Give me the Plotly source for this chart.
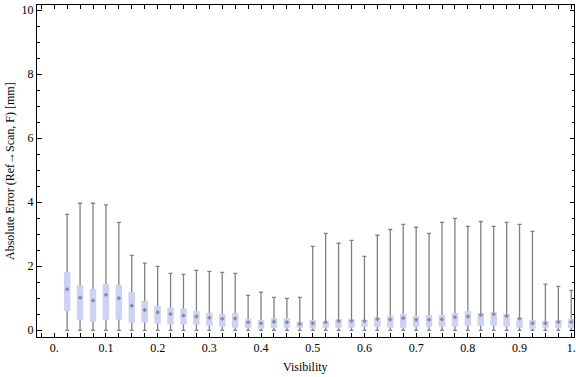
import plotly.graph_objects as go

visibility = [round(0.025 * k, 3) for k in range(1, 41)]
max_err = [3.62, 3.97, 3.97, 3.92, 3.37, 2.34, 2.10, 2.00, 1.78, 1.75,
           1.87, 1.84, 1.81, 1.78, 1.09, 1.19, 1.03, 1.00, 1.03, 2.62,
           3.03, 2.72, 2.81, 2.31, 2.97, 3.15, 3.31, 3.22, 3.03, 3.37,
           3.50, 3.25, 3.40, 3.25, 3.37, 3.31, 3.09, 1.44, 1.37, 1.25]
q3_err = [1.82, 1.41, 1.29, 1.45, 1.42, 1.20, 0.92, 0.76, 0.71, 0.68,
          0.60, 0.54, 0.51, 0.54, 0.35, 0.32, 0.38, 0.38, 0.26, 0.32,
          0.29, 0.35, 0.35, 0.32, 0.40, 0.45, 0.51, 0.45, 0.48, 0.48,
          0.54, 0.60, 0.54, 0.57, 0.51, 0.38, 0.32, 0.29, 0.32, 0.35]
median_err = [1.28, 1.02, 0.93, 1.11, 1.00, 0.77, 0.63, 0.56, 0.51, 0.46,
              0.43, 0.39, 0.36, 0.37, 0.25, 0.22, 0.27, 0.25, 0.20, 0.22,
              0.25, 0.29, 0.29, 0.29, 0.35, 0.34, 0.38, 0.33, 0.33, 0.34,
              0.41, 0.43, 0.48, 0.50, 0.45, 0.37, 0.22, 0.22, 0.26, 0.26]
q1_err = [0.61, 0.31, 0.27, 0.33, 0.33, 0.24, 0.24, 0.21, 0.18, 0.18,
          0.18, 0.14, 0.11, 0.08, 0.08, 0.05, 0.08, 0.08, 0.08, 0.05,
          0.08, 0.08, 0.08, 0.11, 0.11, 0.08, 0.08, 0.11, 0.11, 0.11,
          0.11, 0.14, 0.14, 0.14, 0.11, 0.08, 0.05, 0.08, 0.08, 0.08]
min_err = [0.0] * 40

x_tickvals = [0.0, 0.1, 0.2, 0.3, 0.4, 0.5, 0.6, 0.7, 0.8, 0.9, 1.0]
x_ticktext = ["0.", "0.1", "0.2", "0.3", "0.4", "0.5", "0.6", "0.7", "0.8", "0.9", "1."]
y_tickvals = [0, 2, 4, 6, 8, 10]

whisker_gray = "#808080"
box_fill = "#cbd2f4"
font_family = "Liberation Serif"

fig = go.Figure()

# whiskers (min to max) with caps, drawn as error bars of an invisible bar
fig.add_trace(go.Bar(
    x=visibility,
    y=max_err,
    width=0.004,
    marker=dict(color="rgba(0,0,0,0)", line=dict(width=0)),
    error_y=dict(type="data", symmetric=False,
                 array=[0] * len(max_err),
                 arrayminus=[m - lo for m, lo in zip(max_err, min_err)],
                 color=whisker_gray, thickness=1.3, width=2),
    hoverinfo="skip",
    showlegend=False,
))

# boxes (q1 to q3)
fig.add_trace(go.Bar(
    x=visibility,
    y=[hi - lo for hi, lo in zip(q3_err, q1_err)],
    base=q1_err,
    width=0.0125,
    marker=dict(color=box_fill, line=dict(width=0)),
    showlegend=False,
))

# medians
fig.add_trace(go.Scatter(
    x=visibility,
    y=median_err,
    mode="markers",
    marker=dict(symbol="diamond", size=3.5, color="rgba(120,122,140,0.8)",
                line=dict(width=0)),
    showlegend=False,
))

fig.update_layout(
    width=576, height=377,
    margin=dict(l=37, r=2, t=5, b=40),
    paper_bgcolor="white",
    plot_bgcolor="white",
    barmode="overlay",
    font=dict(family=font_family, size=12, color="black"),
    xaxis=dict(
        range=[-0.0333, 1.0053],
        automargin=False,
        tickvals=x_tickvals, ticktext=x_ticktext,
        ticks="inside", ticklen=4, tickwidth=1, tickcolor="black",
        minor=dict(dtick=0.025, tick0=0, ticks="inside", ticklen=4,
                   tickwidth=1, tickcolor="black", showgrid=False),
        showline=True, linecolor="black", linewidth=1, mirror="ticks",
        showgrid=False, zeroline=False,
        tickfont=dict(family=font_family, size=12),
    ),
    yaxis=dict(
        range=[-0.21, 10.165],
        automargin=False,
        tickvals=y_tickvals,
        ticks="inside", ticklen=4.5, tickwidth=1, tickcolor="black",
        minor=dict(dtick=0.5, tick0=0, ticks="inside", ticklen=2.5,
                   tickwidth=1, tickcolor="black", showgrid=False),
        showline=True, linecolor="black", linewidth=1, mirror="ticks",
        showgrid=False, zeroline=False,
        tickfont=dict(family=font_family, size=12),
    ),
    annotations=[
        dict(text="Visibility", xref="paper", yref="paper", x=0.5, y=0,
             xanchor="center", yanchor="middle", yshift=-30, showarrow=False,
             font=dict(family=font_family, size=12, color="black")),
        dict(text="Absolute Error (Ref\u2192Scan, F) [mm]", xref="paper", yref="paper",
             x=0, y=0.5, xanchor="center", yanchor="middle", xshift=-27,
             textangle=-90, showarrow=False,
             font=dict(family=font_family, size=12, color="black")),
    ],
)

fig.write_html("out.html",
               config={"displayModeBar": False},
               post_script="document.body.style.margin='0';document.body.style.overflow='hidden';")
